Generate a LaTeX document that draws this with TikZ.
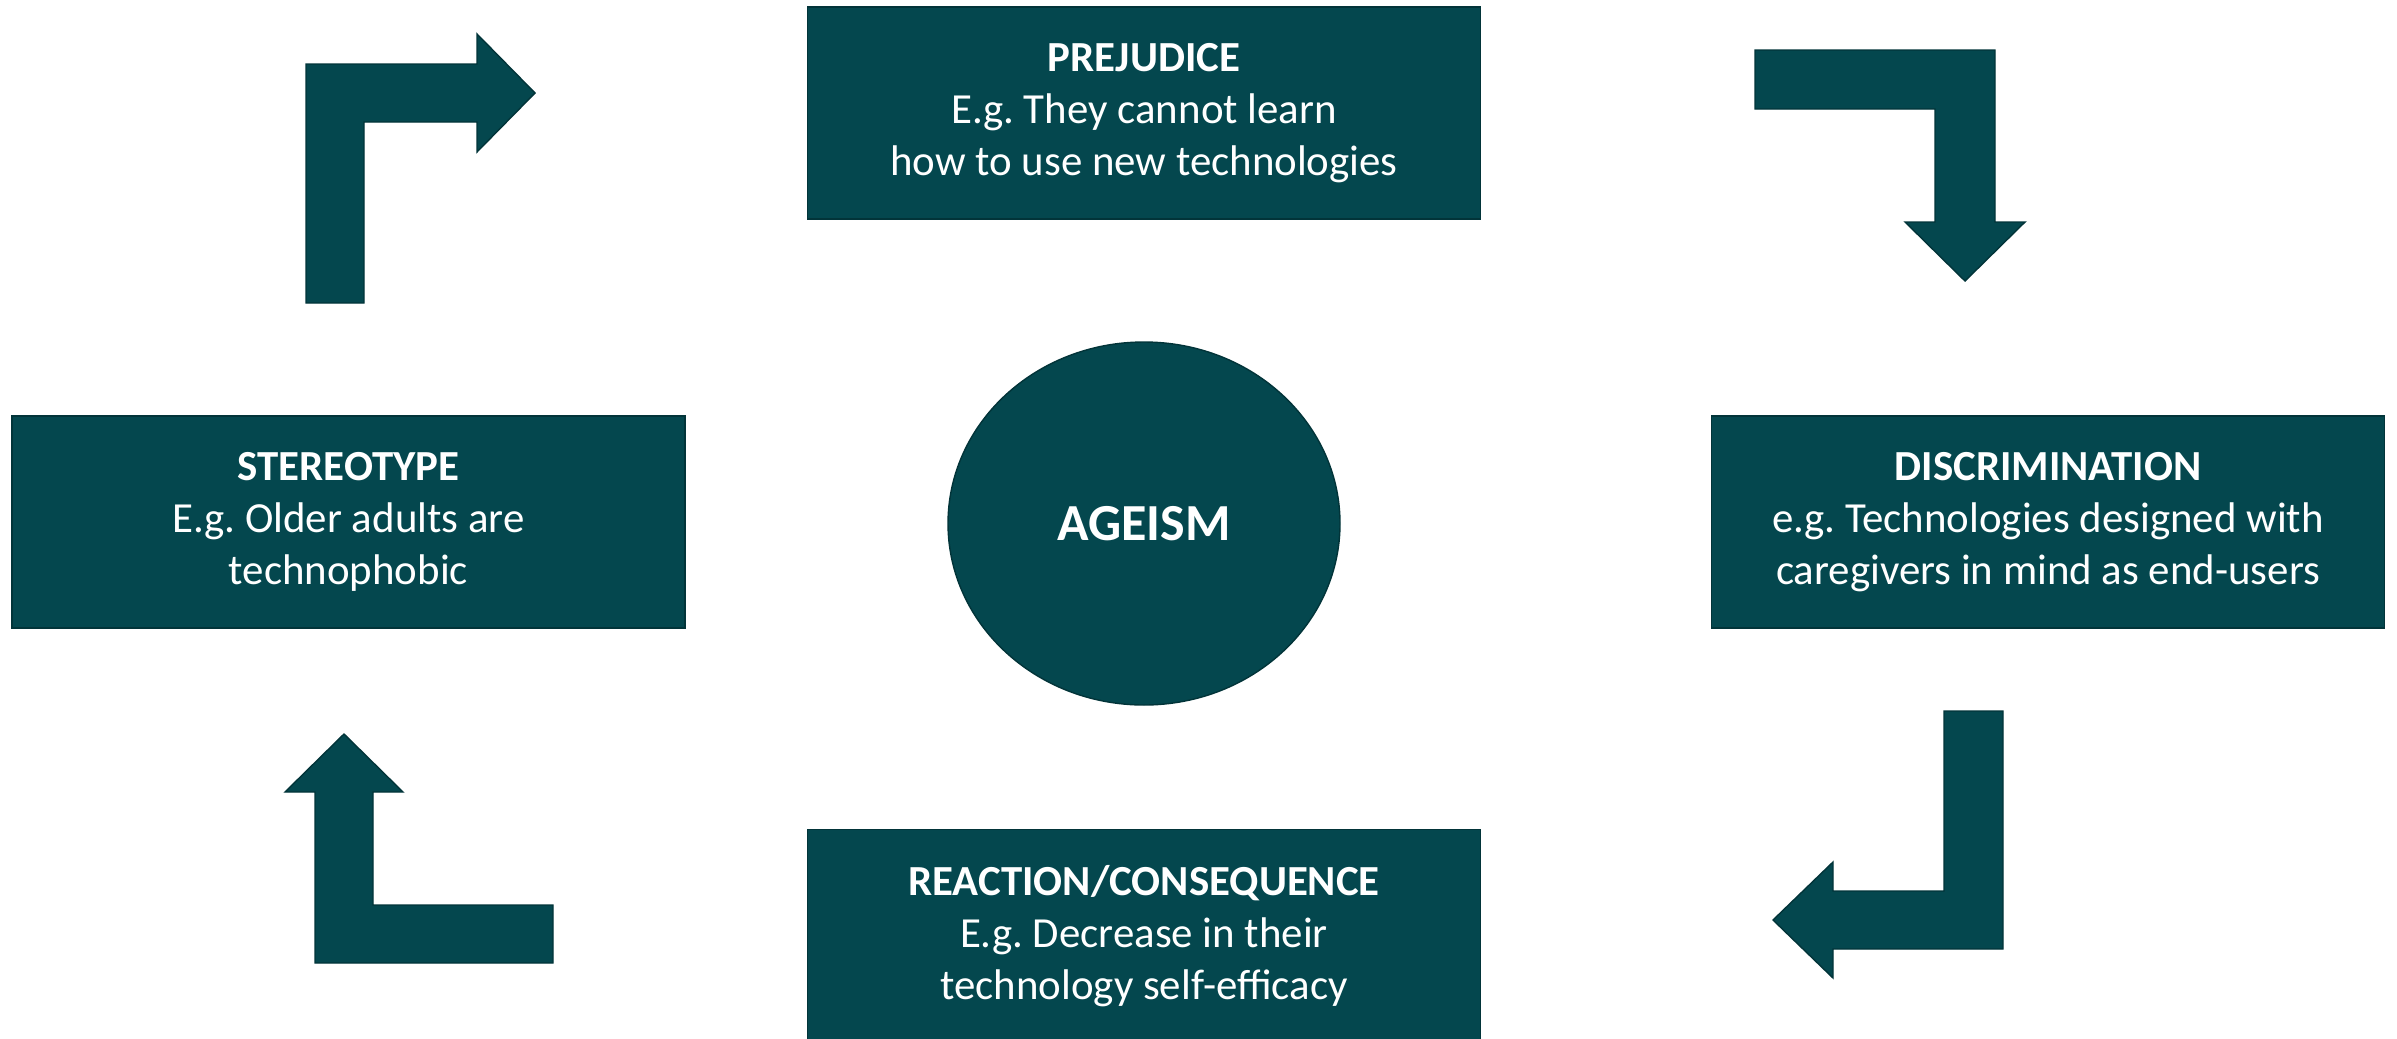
\documentclass[tikz,border=0pt]{standalone}
\usepackage{fontspec}
\setmainfont{Carlito}
\usepackage{tikz}
\usetikzlibrary{shapes.geometric}
\definecolor{tealfill}{RGB}{4,71,78}
\definecolor{tealline}{RGB}{2,52,57}
\frenchspacing

\begin{document}
\begin{tikzpicture}
	[%
	stage/.style ={rectangle,	draw=tealline,	fill=tealfill,	thin,	text=white,	align=center,	minimum width=6.73cm,	minimum height=2.12cm,	font=\fontsize{12.2}{14.8}\selectfont},%
	core/.style  ={ellipse,		draw=tealline,	fill=tealfill,	thin,	text=white,	inner sep=0pt,	minimum width=3.92cm,	minimum height=3.63cm,	font=\fontsize{14.8}{17}\selectfont\bfseries},%
	bent/.style  ={draw=tealline,	fill=tealfill,	thin},%
	]
	\useasboundingbox (0,0) rectangle (23.97,10.38);

	% nodes
	\node (prejudice) at (11.44, 9.25) [stage] {\textbf{PREJUDICE}\\E.g. They cannot learn\\how to use new technologies};
	\node (stereotype) at (3.485,5.16) [stage] {\textbf{STEREOTYPE}\\E.g. Older adults are\\technophobic};
	\node (discrim)    at (20.48,5.16) [stage] {\textbf{DISCRIMINATION}\\e.g. Technologies designed with\\caregivers in mind as end-users};
	\node (reaction)   at (11.44,1.02)  [stage, minimum height=2.13cm] {\textbf{REACTION/CONSEQUENCE}\\E.g. Decrease in their\\technology self-efficacy};

	\node (ageism) at (11.44,5.145) [core] {AGEISM};

	% bent arrows
	\draw [bent] (3.06,7.35) -- (3.06,9.74) -- (4.77,9.74) -- (4.77,10.04) -- (5.35,9.45) -- (4.77,8.86) -- (4.77,9.16) -- (3.64,9.16) -- (3.64,7.35) -- cycle;
	\draw [bent] (17.55,9.88) -- (19.95,9.88) -- (19.95,8.16) -- (20.25,8.16) -- (19.65,7.57) -- (19.05,8.16) -- (19.35,8.16) -- (19.35,9.29) -- (17.55,9.29) -- cycle;
	\draw [bent] (20.03,3.27) -- (20.03,0.89) -- (18.33,0.89) -- (18.33,0.60) -- (17.73,1.18) -- (18.33,1.76) -- (18.33,1.47) -- (19.44,1.47) -- (19.44,3.27) -- cycle;
	\draw [bent] (5.53,0.75) -- (3.15,0.75) -- (3.15,2.46) -- (2.85,2.46) -- (3.44,3.04) -- (4.03,2.46) -- (3.73,2.46) -- (3.73,1.33) -- (5.53,1.33) -- cycle;

\end{tikzpicture}
\end{document}
